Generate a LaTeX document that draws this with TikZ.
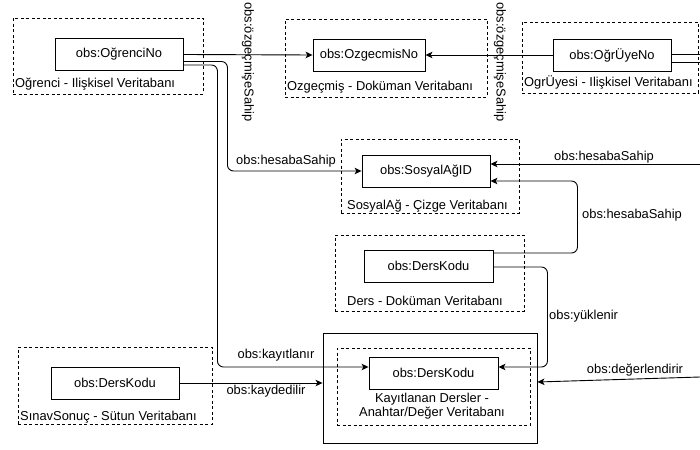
\documentclass[tikz,border=0pt]{standalone}
\usepackage{fontspec}
\setmainfont{Liberation Sans}
\usetikzlibrary{arrows.meta}
\begin{document}
\begin{tikzpicture}[x=1pt,y=-1pt,
  font=\fontsize{12.9}{15}\selectfont,
  keynode/.style={draw, line width=0.9pt, minimum height=32pt, inner sep=0pt},
  dbox/.style={draw, line width=0.8pt, dash pattern=on 3pt off 2.5pt, inner sep=0pt},
  sbox/.style={draw, line width=0.9pt, inner sep=0pt},
  lbl/.style={inner sep=0pt, anchor=west},
  elbl/.style={inner sep=0pt},
  arr/.style={draw, line width=0.9pt, -{Stealth[length=7pt,width=6.5pt,inset=1.8pt]}, rounded corners=6pt},
  ln/.style={draw, line width=0.9pt, rounded corners=6pt}]
\useasboundingbox (0,0) rectangle (700,449);

% container boxes
\node[dbox, minimum width=190pt, minimum height=76pt] (bOgr) at (108,56) {};
\node[dbox, minimum width=202pt, minimum height=78pt] (bOzg) at (386,58) {};
\node[dbox, minimum width=176pt, minimum height=71pt] (bUye) at (610,57.5) {};
\node[dbox, minimum width=178pt, minimum height=74pt] (bSos) at (430,176) {};
\node[dbox, minimum width=189pt, minimum height=76pt] (bDers) at (429.5,273) {};
\node[sbox, minimum width=214pt, minimum height=110pt] (bKayOut) at (430,388) {};
\node[dbox, minimum width=193pt, minimum height=77pt] (bKay) at (433.5,386.5) {};
\node[dbox, minimum width=194pt, minimum height=77pt] (bSin) at (115,385.5) {};

% box captions
\node[lbl] (cOgr) at (15,84) {Oğrenci - Ilişkisel Veritabanı};
\node[lbl] (cOzg) at (287,87) {Ozgeçmiş - Doküman Veritabanı};
\node[lbl] (cUye) at (524,82) {OgrÜyesi - Ilişkisel Veritabanı};
\node[lbl] (cSos) at (347,206) {SosyalAğ - Çizge Veritabanı};
\node[lbl] (cDers) at (347,301) {Ders - Doküman Veritabanı};
\node[lbl] (cSin) at (20,417) {SınavSonuç - Sütun Veritabanı};
\node[elbl, align=center, font=\fontsize{12.9}{14.5}\selectfont] (cKay) at (432,406) {Kayıtlanan Dersler -\\Anahtar/Değer Veritabanı};

% key nodes
\node[keynode, minimum width=128pt] (ogr) at (119,54.5) {obs:OğrenciNo};
\node[keynode, minimum width=112pt] (ozg) at (369,55) {obs:OzgecmisNo};
\node[keynode, minimum width=118pt] (uye) at (612,55) {obs:OğrÜyeNo};
\node[keynode, minimum width=128pt] (sos) at (426,171) {obs:SosyalAğID};
\node[keynode, minimum width=129pt] (ders) at (428.5,266) {obs:DersKodu};
\node[keynode, minimum width=129pt] (kay) at (433.5,373) {obs:DersKodu};
\node[keynode, minimum width=128pt] (sin) at (115,383) {obs:DersKodu};

% free ends at the right border
\coordinate (r1) at (700,54);
\coordinate (r2) at (700,62);
\coordinate (r3) at (700,164);
\coordinate (r4) at (700,377);

% connectors
\draw[arr] (ogr.east) -- (ozg.west);
\draw[arr] (uye.west) -- (ozg.east);
\draw[arr] ([yshift=-7pt]ogr.east) -- ++(44,0) |- (sos.west);
\draw[arr] ([yshift=-10.5pt]ogr.east) -- ++(34,0) |- ([yshift=6pt]kay.west);
\draw[ln] ([yshift=1pt]uye.east) -- (r1);
\draw[ln] ([yshift=-7pt]uye.east) -- (r2);
\draw[arr] (r3) -- ([yshift=7pt]sos.east);
\draw[arr] ([yshift=13pt]ders.east) -- ++(84,0) |- ([yshift=-10pt]sos.east);
\draw[arr] ([yshift=-1pt]ders.east) -- ++(54,0) |- ([yshift=6pt]kay.east);
\draw[arr] (sin.east) -- (bKayOut.west |- sin.east);
\draw[arr] (r4) -- ([yshift=6pt]bKayOut.east);

% connector labels
\node[elbl, rotate=-90] (lOz1) at (248,62) {obs:özgeçmişeSahip};
\node[elbl, rotate=-90] (lOz2) at (500,62) {obs:özgeçmişeSahip};
\node[elbl] (lHes1) at (286,161) {obs:hesabaSahip};
\node[elbl] (lHes2) at (604,157) {obs:hesabaSahip};
\node[elbl] (lHes3) at (632,215) {obs:hesabaSahip};
\node[elbl, anchor=west] (lYuk) at (549,316) {obs:yüklenir};
\node[elbl] (lKayit) at (276,355) {obs:kayıtlanır};
\node[elbl] (lKayd) at (266,391) {obs:kaydedilir};
\node[elbl] (lDeg) at (635,370) {obs:değerlendirir};
\end{tikzpicture}
\end{document}
